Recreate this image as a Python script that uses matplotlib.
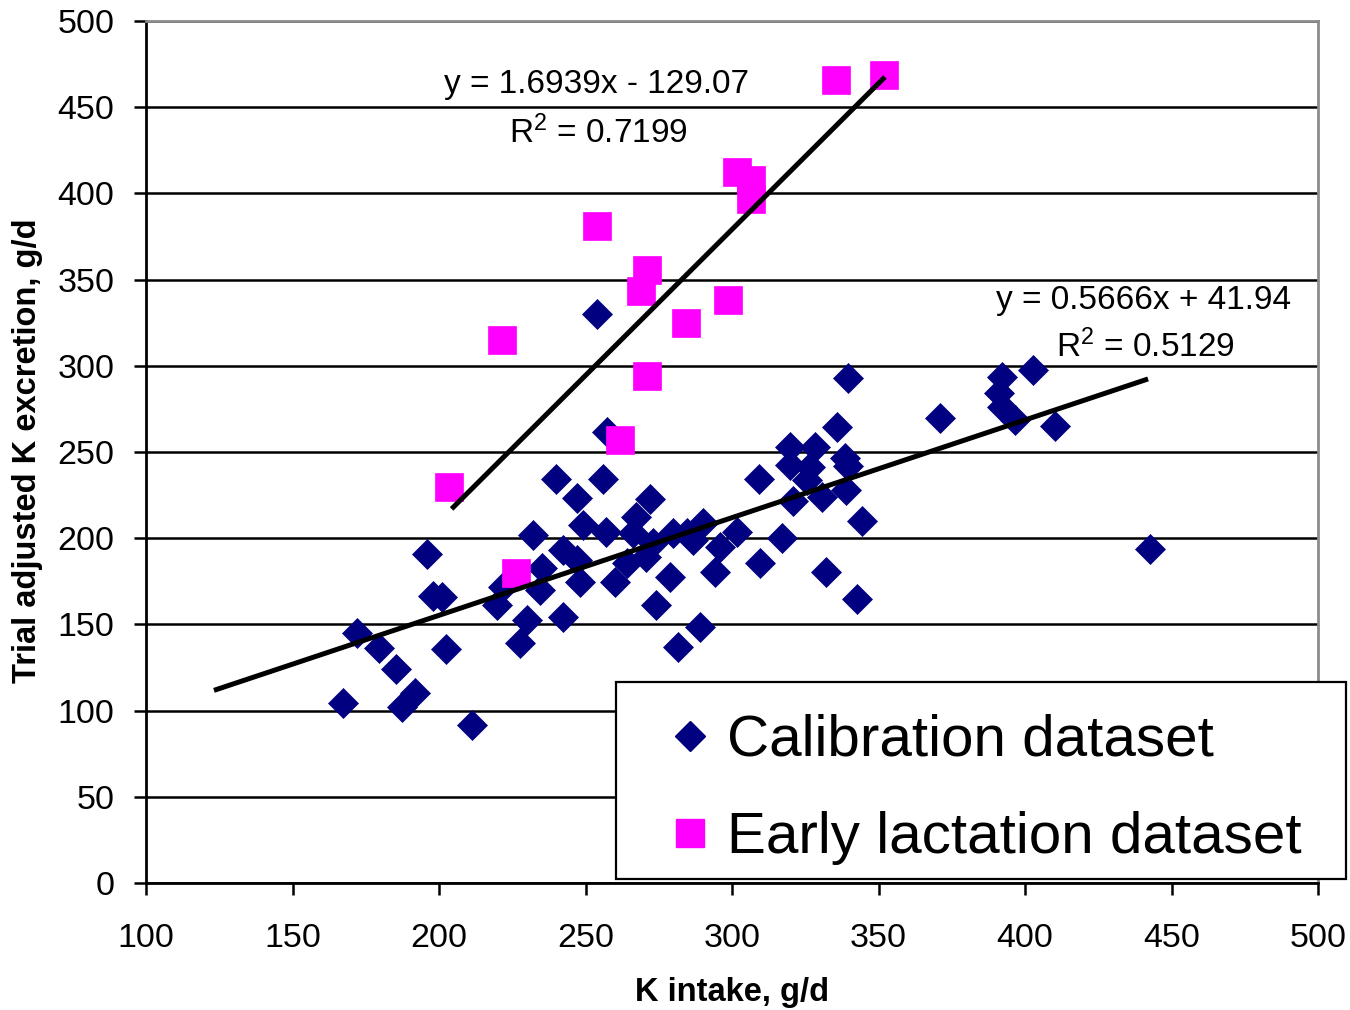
import matplotlib
matplotlib.use('Agg')
import matplotlib.pyplot as plt
from matplotlib.patches import Rectangle
from matplotlib.lines import Line2D

plt.rcParams['font.family'] = ['Liberation Sans', 'DejaVu Sans']
plt.rcParams['mathtext.fontset'] = 'custom'
plt.rcParams['mathtext.rm'] = 'Liberation Sans'
plt.rcParams['mathtext.it'] = 'Liberation Sans:italic'
plt.rcParams['mathtext.bf'] = 'Liberation Sans:bold'

# ---------------- data ----------------
cal_x = [167.1, 171.9, 179.5, 185.3, 187.3, 191.8, 195.8, 198.0, 200.9, 202.4, 211.2,
         239.8, 255.9, 247.2, 249.2, 257.0, 232.2, 242.4, 247.0, 248.1, 235.0, 234.5,
         222.0, 219.7, 229.9, 227.6, 242.4, 260.0, 264.0,
         272.0, 267.4, 266.2, 280.0, 284.5, 290.2, 301.6, 295.9, 278.8, 294.2, 274.1,
         289.1, 281.7, 309.6, 270.8, 273.0, 286.7,
         335.7, 319.8, 328.3, 319.8, 326.6, 338.6, 339.5, 309.3, 325.5, 320.9, 330.6,
         338.9, 344.5, 316.9, 332.1, 342.6,
         339.6, 257.2, 253.8, 371.0, 392.0, 402.6, 391.1, 392.0, 396.6, 410.2, 442.7]
cal_y = [104.6, 145.2, 136.5, 124.1, 102.3, 110.2, 190.7, 166.5, 166.1, 135.5, 91.6,
         234.1, 234.1, 223.1, 207.6, 203.8, 201.9, 193.2, 187.4, 174.7, 182.5, 170.0,
         171.9, 161.2, 152.6, 139.0, 154.4, 174.6, 185.4,
         222.5, 212.4, 202.8, 202.8, 202.8, 208.6, 203.7, 195.0, 177.7, 180.6, 161.3,
         148.7, 137.0, 185.4, 189.3, 197.0, 199.0,
         264.6, 253.0, 253.0, 242.5, 241.4, 246.3, 242.0, 234.1, 233.8, 221.3, 224.0,
         228.0, 210.0, 200.2, 180.6, 164.5,
         293.0, 261.8, 329.8, 269.8, 293.7, 297.6, 284.0, 276.2, 268.6, 265.0, 193.5]

early_x = [203.4, 221.5, 226.3, 253.9, 261.8, 268.9, 271.0, 271.0, 284.3, 298.6,
           301.7, 306.5, 306.5, 335.5, 351.9]
early_y = [229.7, 315.0, 179.8, 381.0, 257.0, 343.4, 355.6, 294.0, 324.8, 338.0,
           412.4, 407.7, 397.0, 465.8, 468.7]

cal_slope, cal_intercept = 0.5666, 41.94
cal_fit_range = [123.2, 442.0]
early_slope, early_intercept = 1.6939, -129.07
early_fit_range = [204.3, 352.2]

cal_eq = "y = 0.5666x + 41.94"
cal_r2 = "R$^{2}$ = 0.5129"
early_eq = "y = 1.6939x - 129.07"
early_r2 = "R$^{2}$ = 0.7199"

x_ticks = [100, 150, 200, 250, 300, 350, 400, 450, 500]
y_ticks = [0, 50, 100, 150, 200, 250, 300, 350, 400, 450, 500]

series_labels = ["Calibration dataset", "Early lactation dataset"]
x_label = "K intake, g/d"
y_label = "Trial adjusted K excretion, g/d"

NAVY = '#000080'
MAGENTA = '#FF00FF'

# ---------------- figure ----------------
W, H = 1350, 1010
fig = plt.figure(figsize=(W / 100, H / 100), dpi=100)
ax = fig.add_axes([146 / W, 1 - 883 / H, 1172 / W, 862 / H])

ax.set_xlim(100, 500)
ax.set_ylim(0, 500)
ax.set_xticks(x_ticks)
ax.set_yticks(y_ticks)

ax.set_axisbelow(True)
ax.yaxis.grid(True, color='black', linewidth=1.8)
ax.xaxis.grid(False)

for side in ['left', 'bottom']:
    ax.spines[side].set_color('black')
    ax.spines[side].set_linewidth(2.0)
for side in ['top', 'right']:
    ax.spines[side].set_color('#8c8c8c')
    ax.spines[side].set_linewidth(2.0)

ax.tick_params(axis='both', direction='out', length=8.6, width=1.8,
               colors='black', labelsize=24.5)
ax.tick_params(axis='x', pad=20)
ax.tick_params(axis='y', pad=14)

# scatter series
ax.plot(cal_x, cal_y, linestyle='none', marker='D', markersize=15.3,
        markerfacecolor=NAVY, markeredgecolor=NAVY, markeredgewidth=0.5,
        zorder=3, label=series_labels[0])
ax.plot(early_x, early_y, linestyle='none', marker='s', markersize=20,
        markerfacecolor=MAGENTA, markeredgecolor=MAGENTA, markeredgewidth=0.5,
        zorder=4, label=series_labels[1])

# trend lines
cx = cal_fit_range
ax.plot(cx, [cal_slope * v + cal_intercept for v in cx], color='black',
        linewidth=3.6, solid_capstyle='butt', zorder=5)
ex = early_fit_range
ax.plot(ex, [early_slope * v + early_intercept for v in ex], color='black',
        linewidth=3.6, solid_capstyle='butt', zorder=5)

# equation labels
ax.text(253.6, 458.2, early_eq, fontsize=24, ha='center', va='baseline', zorder=6)
ax.text(254.3, 429.2, early_r2, fontsize=24, ha='center', va='baseline', zorder=6)
ax.text(440.3, 333.2, cal_eq, fontsize=24, ha='center', va='baseline', zorder=6)
ax.text(441.0, 304.8, cal_r2, fontsize=24, ha='center', va='baseline', zorder=6)

# axis labels
ax.set_xlabel(x_label, fontsize=23.5, fontweight='bold')
ax.set_ylabel(y_label, fontsize=23.5, fontweight='bold')
ax.xaxis.set_label_coords((732 - 146) / 1172, (883 - 992) / 862)
ax.xaxis.label.set_va('center')
ax.yaxis.set_label_coords((28 - 146) / 1172, (883 - 451) / 862)
ax.yaxis.label.set_va('center')

# legend frame
frame = Rectangle(((616 - 146) / 1172, (883 - 879) / 862),
                  (1346 - 616) / 1172, (879 - 682) / 862,
                  transform=ax.transAxes, facecolor='white', edgecolor='black',
                  linewidth=1.6, clip_on=False, zorder=7)
ax.add_patch(frame)

handles = [Line2D([], [], linestyle='none', marker='D', markersize=15.3,
                  markerfacecolor=NAVY, markeredgecolor=NAVY),
           Line2D([], [], linestyle='none', marker='s', markersize=20,
                  markerfacecolor=MAGENTA, markeredgecolor=MAGENTA)]
leg = ax.legend(handles, series_labels, loc='upper left',
                bbox_to_anchor=(672.5 / W, 1 - 714 / H),
                bbox_transform=fig.transFigure, frameon=False, borderpad=0,
                handlelength=0.6, handletextpad=0.33, labelspacing=0.74,
                fontsize=42, borderaxespad=0)
leg.set_zorder(8)

fig.savefig('out.png', dpi=100)
